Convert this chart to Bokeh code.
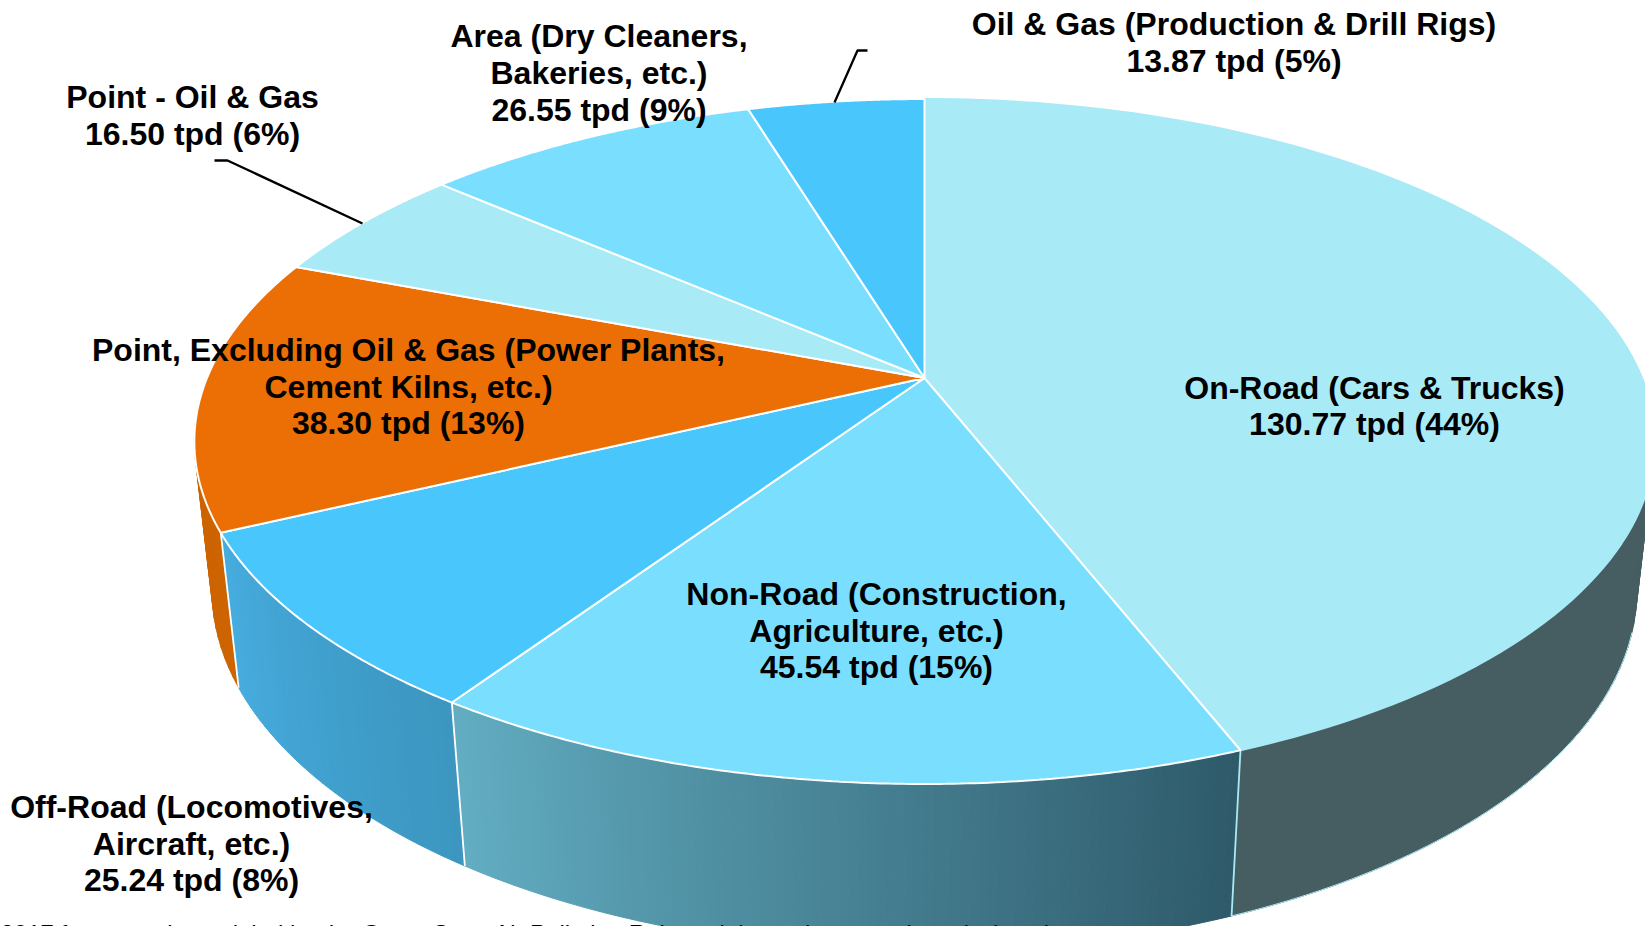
import numpy as np
from bokeh.plotting import figure
from bokeh.models import Range1d
from bokeh.core.properties import value
from bokeh.embed import file_html
from bokeh.resources import INLINE

# Data
categories = ["On-Road (Cars & Trucks)", "Non-Road (Construction, Agriculture, etc.)",
              "Off-Road (Locomotives, Aircraft, etc.)",
              "Point, Excluding Oil & Gas (Power Plants, Cement Kilns, etc.)",
              "Point - Oil & Gas", "Area (Dry Cleaners, Bakeries, etc.)",
              "Oil & Gas (Production & Drill Rigs)"]
values = [130.77, 45.54, 25.24, 38.30, 16.50, 26.55, 13.87]
top_colors = ["#A9EAF7", "#7ADFFF", "#49C6FC", "#EC6F06", "#A9EAF7", "#7ADFFF", "#49C6FC"]

label_lines = [
    ["On-Road (Cars & Trucks)", "130.77 tpd (44%)"],
    ["Non-Road (Construction,", "Agriculture, etc.)", "45.54 tpd (15%)"],
    ["Off-Road (Locomotives,", "Aircraft, etc.)", "25.24 tpd (8%)"],
    ["Point, Excluding Oil & Gas (Power Plants,", "Cement Kilns, etc.)", "38.30 tpd (13%)"],
    ["Point - Oil & Gas", "16.50 tpd (6%)"],
    ["Area (Dry Cleaners,", "Bakeries, etc.)", "26.55 tpd (9%)"],
    ["Oil & Gas (Production & Drill Rigs)", "13.87 tpd (5%)"],
]
label_x = [1374, 876, 191, 408, 192, 598.5, 1233.5]
label_y = [405.5, 630, 843, 386, 115, 72.5, 42]
LINE_H = 36.8

leader_x = [[214, 227, 362], [867, 857, 834]]
leader_y = [[160, 160, 223], [50, 50, 102]]

footer_text = "2017 for ozone is modeled by the Cross-State Air Pollution Rule and the anthropogenic emissions inventory"

# Projection of the pie disk
CX, CY = 924.0, 377.5
A, B = 717.5, 330.7
K, M, DEPTH = 0.1854, 0.024, 150.0


def project(theta_deg, z=0.0):
    t = np.radians(theta_deg)
    u, v = np.sin(t), np.cos(t)
    w = 1 + K * v + M * z
    return CX + A * u / w, CY + (-B * v + DEPTH * z) / w


total = sum(values)
edges = np.concatenate([[0.0], np.cumsum(values) / total * 360.0])

p = figure(width=1645, height=926, x_range=Range1d(0, 1645), y_range=Range1d(926, 0),
           output_backend="svg", toolbar_location=None, min_border=0,
           background_fill_color="white", border_fill_color="white", outline_line_color=None)
p.axis.visible = False
p.grid.visible = False


def wall(t0, t1, c0, c1, n):
    ts = np.linspace(t0, t1, n + 1)
    xs, ys, cols = [], [], []
    for i in range(n):
        f = i / max(n - 1, 1)
        col = "#%02x%02x%02x" % tuple(int(round(a + (b - a) * f)) for a, b in zip(c0, c1))
        x0, y0 = project(ts[i])
        x1, y1 = project(ts[i + 1])
        x2, y2 = project(ts[i + 1], 1)
        x3, y3 = project(ts[i], 1)
        xs.append([x0, x1, x2, x3])
        ys.append([y0, y1, y2, y3])
        cols.append(col)
    p.patches(xs, ys, fill_color=cols, line_color=cols, line_width=1)


# side walls (hidden parts end up below the top surfaces)
wall(60, edges[1], (70, 94, 97), (70, 94, 97), 60)
wall(edges[3], 290, (205, 100, 0), (205, 100, 0), 30)
wall(edges[2], edges[3], (60, 150, 192), (70, 172, 222), 30)
wall(edges[1], edges[2], (46, 90, 106), (98, 173, 194), 90)

# wall outlines
tt = np.linspace(107, edges[1], 60)
bx, by = project(tt, 1)
p.line(bx, by, line_color="#A9EAF7", line_width=1)
for i, col in [(1, "#A9EAF7"), (2, "#ffffff"), (3, "#ffffff")]:
    x0, y0 = project(edges[i])
    x1, y1 = project(edges[i], 1)
    p.line([x0, x1], [y0, y1], line_color=col, line_width=1.8)

# top surfaces
for i, col in enumerate(top_colors):
    tt = np.linspace(edges[i], edges[i + 1], 120)
    x, y = project(tt)
    px = np.concatenate([[CX], x])
    py = np.concatenate([[CY], y])
    lc = col if i == 0 else "#ffffff"
    p.patch(px, py, fill_color=col, line_color=lc, line_width=2)

# leaders
p.multi_line(leader_x, leader_y, line_color="black", line_width=2.3)

# labels
tx, ty, tt = [], [], []
for lines, lx, ly in zip(label_lines, label_x, label_y):
    n = len(lines)
    for j, s in enumerate(lines):
        tx.append(lx)
        ty.append(ly + (j - (n - 1) / 2) * LINE_H)
        tt.append(s)
p.text(tx, ty, text=tt, text_font=value("Liberation Sans"), text_font_style="bold",
       text_font_size="32px", text_align="center", text_baseline="middle", text_color="black")

# cut-off footer
p.text([0], [919], text=[footer_text], text_font=value("Liberation Sans"), text_font_size="24px",
       text_align="left", text_baseline="top", text_color="black")

open("out.html", "w").write(file_html(p, INLINE))
